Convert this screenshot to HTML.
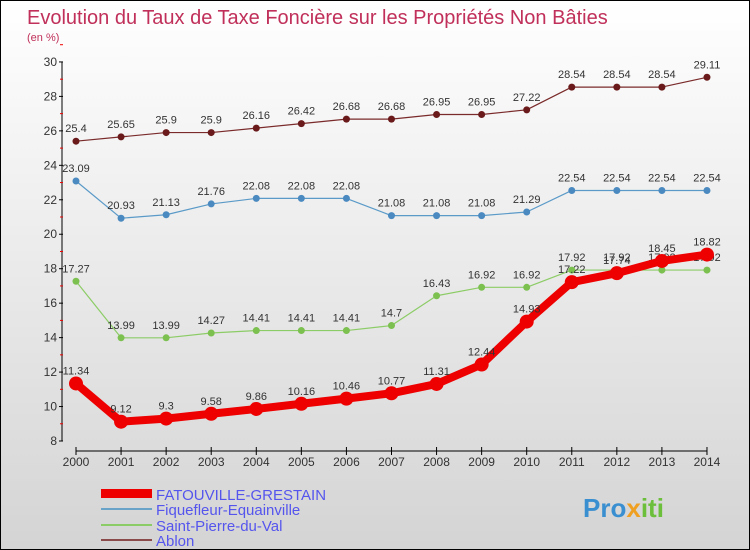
<!DOCTYPE html>
<html><head><meta charset="utf-8"><style>
body{margin:0;}
#c{width:748px;height:548px;border:1px solid #000;background:linear-gradient(#fff,#d4d4d4);position:relative;font-family:"Liberation Sans",sans-serif;overflow:hidden}
</style></head><body>
<div id="c">
<svg id="s" width="748" height="548" xmlns="http://www.w3.org/2000/svg">
<text x="26" y="23" font-size="20" fill="#c0305a">Evolution du Taux de Taxe Foncière sur les Propriétés Non Bâties</text>
<text x="26" y="40" font-size="11" fill="#c0305a">(en %)</text>
<g id="axes"></g><g id="series"></g>
<g>
<rect x="100" y="488" width="51" height="9" fill="#e00"/>
<text x="155" y="499" font-size="15" fill="#5555ee">FATOUVILLE-GRESTAIN</text>
<rect x="100" y="507" width="51" height="2" fill="#6aa3c8"/>
<text x="155" y="514" font-size="15" fill="#5555ee">Fiquefleur-Equainville</text>
<rect x="100" y="523" width="51" height="2" fill="#8ccc66"/>
<text x="155" y="530" font-size="15" fill="#5555ee">Saint-Pierre-du-Val</text>
<rect x="100" y="538" width="51" height="2" fill="#8a4a4a"/>
<text x="155" y="545" font-size="15" fill="#5555ee">Ablon</text>
</g>
<text x="582" y="516" font-size="26" font-weight="bold" fill="#3a8fd0">Pro<tspan fill="#f0a020">x</tspan><tspan fill="#6bbf3a">iti</tspan></text>
</svg></div>
<script>
const years=[2000,2001,2002,2003,2004,2005,2006,2007,2008,2009,2010,2011,2012,2013,2014];
const yTicks=[8,10,12,14,16,18,20,22,24,26,28,30];
const fatouville=[11.34,9.12,9.3,9.58,9.86,10.16,10.46,10.77,11.31,12.44,14.93,17.22,17.74,18.45,18.82];
const fiquefleur=[23.09,20.93,21.13,21.76,22.08,22.08,22.08,21.08,21.08,21.08,21.29,22.54,22.54,22.54,22.54];
const saintPierre=[17.27,13.99,13.99,14.27,14.41,14.41,14.41,14.7,16.43,16.92,16.92,17.92,17.92,17.92,17.92];
const ablon=[25.4,25.65,25.9,25.9,26.16,26.42,26.68,26.68,26.95,26.95,27.22,28.54,28.54,28.54,29.11];
const NS="http://www.w3.org/2000/svg";
const X=i=>75+i*45.07, Y=v=>440-(v-8)*17.23;
function mk(t,a,p){const e=document.createElementNS(NS,t);for(const k in a)e.setAttribute(k,a[k]);p.appendChild(e);return e;}
const ax=document.getElementById('axes'), sg=document.getElementById('series');
let l=mk('line',{x1:61,y1:Y(30),x2:61,y2:Y(8),stroke:'#000'},ax);


yTicks.forEach(v=>{
 mk('line',{x1:58,y1:Y(v),x2:62,y2:Y(v),stroke:'#000'},ax);
 mk('line',{x1:59,y1:Y(v+1),x2:62,y2:Y(v+1),stroke:'#e00'},ax);
 const t=mk('text',{x:56,y:Y(v)+4,'font-size':12,'text-anchor':'end',fill:'#333'},ax);t.textContent=v;
 
 
});
l=mk('line',{x1:X(0),y1:450,x2:X(14),y2:450,stroke:'#000'},ax);


years.forEach((y,i)=>{
 mk('line',{x1:X(i),y1:446,x2:X(i),y2:454,stroke:'#000'},ax);
 const t=mk('text',{x:X(i),y:465,'font-size':12,'text-anchor':'middle',fill:'#333'},ax);t.textContent=y;
 
 
});
function draw(data,name,col,w,r,dot){
 const g=mk('g',{},sg);
 
 
 mk('polyline',{points:data.map((v,i)=>X(i)+','+Y(v)).join(' '),fill:'none',stroke:col,'stroke-width':w,'stroke-linejoin':'round'},g);
 data.forEach((v,i)=>{
  const c=mk('circle',{cx:X(i),cy:Y(v),r:r,fill:dot},g);
  
  
  const t=mk('text',{x:X(i),y:Y(v)-9,'font-size':11,'text-anchor':'middle',fill:'#333'},g);t.textContent=v;
  
  
 });
}
draw(ablon,'ablon','#7a2a2a',1.2,3.5,'#6a1a1a');
draw(fiquefleur,'fiquefleur','#5a9ac8',1.2,3.5,'#4a8ac0');
draw(saintPierre,'saint-pierre','#8ccc66',1.2,3.5,'#7cc050');
draw(fatouville,'fatouville','#e00',8,7,'#e00');
</script>
</body></html>
